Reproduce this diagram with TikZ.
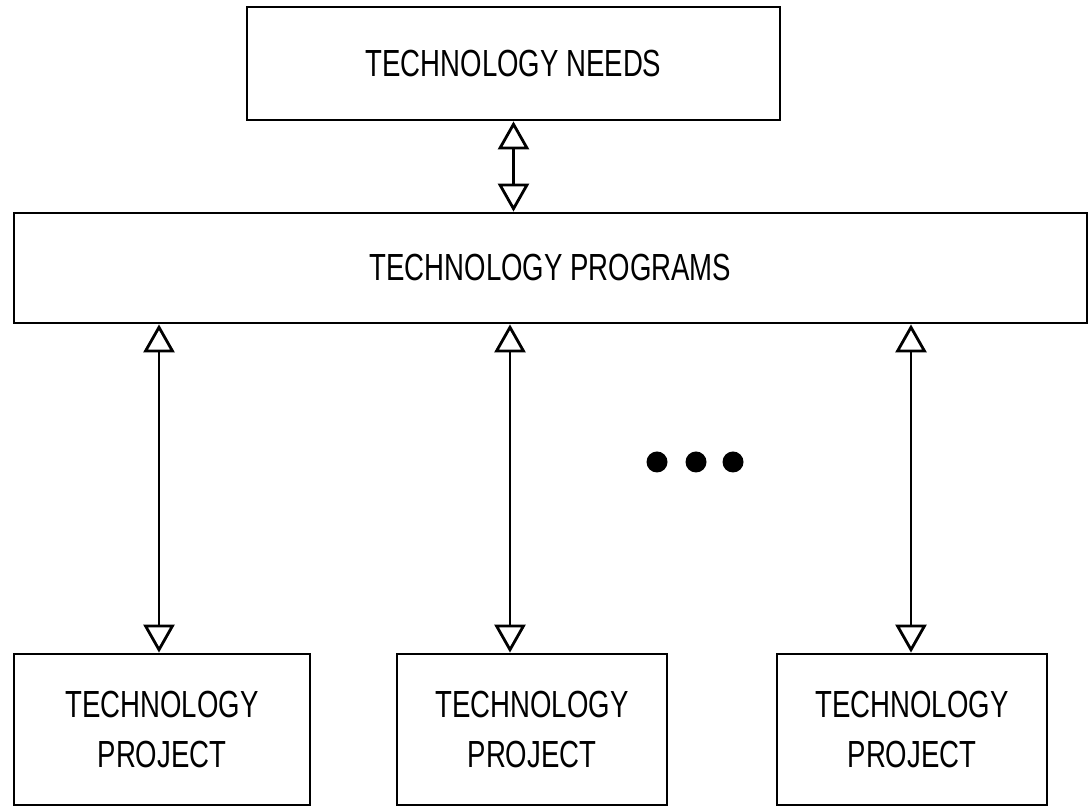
\documentclass[tikz,border=0pt]{standalone}
\usepackage{fontspec}
\setmainfont{Liberation Sans}[FakeStretch=0.73]
\usetikzlibrary{arrows.meta}

\begin{document}
\begin{tikzpicture}[
      font=\fontsize{21.5}{28.5}\selectfont,
      box/.style={draw, line width=1.6pt, inner sep=0pt, align=center},
      proj/.style={box, minimum width=5.4cm, minimum height=3.02cm},
      tip/.tip={Triangle[open, length=5.6mm, width=6.2mm]},
      arr/.style={tip-tip, line width=1.6pt},
      dot/.style={fill, circle, minimum size=4.2mm, inner sep=0pt},
    ]
    \useasboundingbox (0,0) rectangle (21.82,16.14);
    % ---------- needs and programs ----------
    \node[box, minimum width=10.66cm, minimum height=2.26cm] (needs) at (10.27,14.87)
      {TECHNOLOGY NEEDS};
    \node[box, minimum width=21.46cm, minimum height=2.2cm] (programs) at (11.01,10.78)
      {TECHNOLOGY PROGRAMS};
    \draw[arr] (needs.south) -- (needs.south |- programs.north);

    % ---------- projects ----------
    \node[proj, minimum width=5.92cm] (proj1) at (3.24,1.55) {TECHNOLOGY\\PROJECT};
    \node[proj] (proj2) at (10.64,1.55) {TECHNOLOGY\\PROJECT};
    \node[proj] (proj3) at (18.24,1.55) {TECHNOLOGY\\PROJECT};

    \coordinate (x1) at (3.18,0);
    \coordinate (x2) at (10.2,0);
    \coordinate (x3) at (18.22,0);
    \draw[arr] (x1 |- programs.south) -- (x1 |- proj1.north);
    \draw[arr] (x2 |- programs.south) -- (x2 |- proj2.north);
    \draw[arr] (x3 |- programs.south) -- (x3 |- proj3.north);

    % ---------- dots ----------
    \node[dot] (d1) at (13.14,6.9) {};
    \node[dot] (d2) at (13.92,6.9) {};
    \node[dot] (d3) at (14.66,6.9) {};
  \end{tikzpicture}
\end{document}
